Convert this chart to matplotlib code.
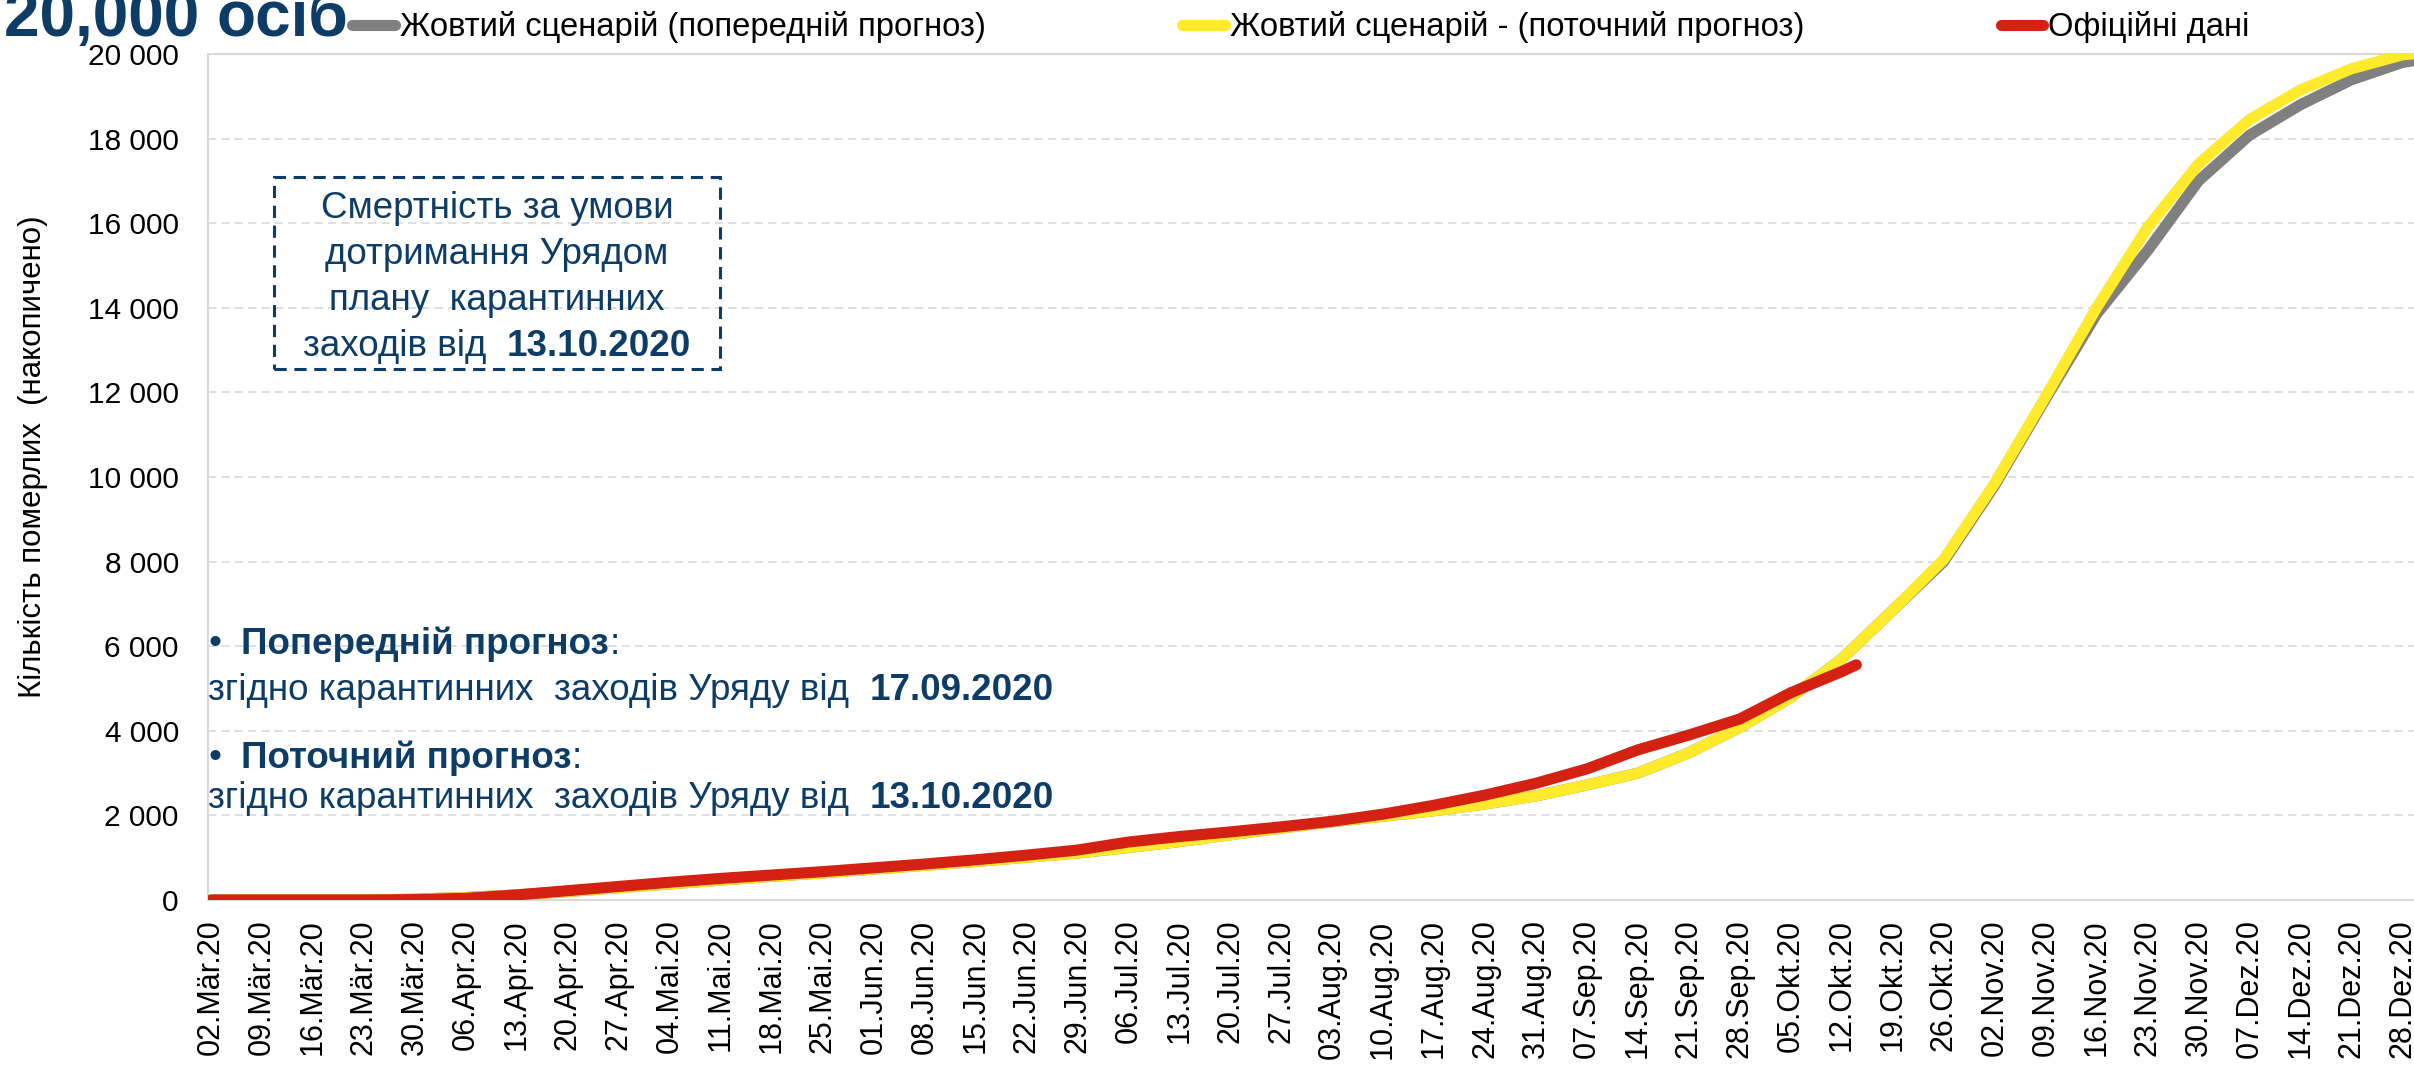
import numpy as np
import pandas as pd
import matplotlib
matplotlib.use("Agg")
import matplotlib.pyplot as plt
from matplotlib.patches import Rectangle

plt.rcParams['font.family'] = ['Liberation Sans', 'DejaVu Sans']

W, H = 2414, 1065
BLUE = '#0d3c66'

# weekly dates, 02.03.2020 .. 28.12.2020, plus the end of the forecast horizon
week_dates = pd.date_range('2020-03-02', '2020-12-28', freq='7D')
forecast_dates = week_dates.append(pd.DatetimeIndex(['2020-12-31']))
official_dates = week_dates[:33].append(pd.DatetimeIndex(['2020-10-14']))

# cumulative deaths
prev_forecast = [0, 0, 0, 0, 20, 60, 120, 200, 290, 380, 470, 560, 640, 730, 820, 910,
                 1010, 1110, 1240, 1380, 1540, 1700, 1850, 1980, 2110, 2270, 2460, 2720,
                 3000, 3480, 4080, 4790, 5700, 6850, 8000, 9800, 11850, 13850, 15350,
                 17000, 18080, 18800, 19390, 19800, 19880]
curr_forecast = [0, 0, 0, 0, 20, 60, 120, 200, 290, 380, 470, 560, 640, 730, 820, 910,
                 1010, 1110, 1240, 1380, 1540, 1700, 1850, 1980, 2110, 2270, 2460, 2720,
                 3000, 3480, 4080, 4790, 5700, 6850, 8050, 9850, 11900, 14000, 15900,
                 17400, 18450, 19150, 19650, 19980, 20030]
official = [0, 0, 0, 0, 10, 40, 120, 220, 320, 420, 510, 590, 670, 760, 850, 950,
            1060, 1180, 1370, 1500, 1610, 1730, 1860, 2030, 2240, 2480, 2760, 3100,
            3550, 3900, 4280, 4900, 5400, 5560]

labels = ['Жовтий сценарій (попередній прогноз)',
          'Жовтий сценарій - (поточний прогноз)',
          'Офіційні дані']
de_months = {3: 'Mär', 4: 'Apr', 5: 'Mai', 6: 'Jun', 7: 'Jul', 8: 'Aug',
             9: 'Sep', 10: 'Okt', 11: 'Nov', 12: 'Dez'}

start = week_dates[0]
def days(d):
    return np.asarray((d - start).days, dtype=float)

fig = plt.figure(figsize=(W / 100, H / 100), dpi=100)
ax = fig.add_axes([208 / W, 1 - 900 / H, 1 - 208 / W, 846 / H])

ax.plot(days(forecast_dates), prev_forecast, color='#808080', lw=8,
        solid_capstyle='round', label=labels[0], zorder=3)
ax.plot(days(forecast_dates), curr_forecast, color='#ffea2b', lw=8,
        solid_capstyle='round', label=labels[1], zorder=4)
ax.plot(days(official_dates), official, color='#d42112', lw=8,
        solid_capstyle='round', label=labels[2], zorder=5)

ax.set_xlim(-0.4, 302.6)
ax.set_ylim(0, 20000)
ax.set_yticks(np.arange(0, 20001, 2000))
ax.set_yticklabels([f'{v:,}'.replace(',', ' ') for v in range(0, 20001, 2000)])
ax.set_xticks(days(week_dates))
ax.set_xticklabels([f'{d.day:02d}.{de_months[d.month]}.20' for d in week_dates],
                   rotation=90)
ax.tick_params(axis='x', length=0, pad=14, labelsize=22)
ax.tick_params(axis='y', length=0, pad=21, labelsize=21.5)

ax.grid(axis='y', color='#d9d9d9', ls=(0, (5, 3)), lw=1.2)
for side in ['left', 'bottom', 'top']:
    ax.spines[side].set_color('#d9d9d9')
    ax.spines[side].set_linewidth(1.5)
ax.spines['right'].set_visible(False)
ax.set_axisbelow(True)

ax.set_ylabel('Кількість померлих  (накопичено)', fontsize=22.5)
ax.yaxis.set_label_coords(-0.0725, 0.524)

leg = fig.legend(loc='center left', bbox_to_anchor=(352 / W, 1 - 27 / H), ncol=3,
                 frameon=False, fontsize=23.6, handlelength=1.3, handletextpad=0.15,
                 columnspacing=6.0, borderpad=0, borderaxespad=0)
for line in leg.get_lines():
    line.set_linewidth(8)
    line.set_solid_capstyle('round')

fig.text(4 / W, 1 - 36 / H, '20,000 осіб', fontsize=46, fontweight='bold',
         color=BLUE, va='baseline', ha='left')

renderer = fig.canvas.get_renderer()

def text_width(s, weight, size):
    t1 = fig.text(0, 0, '|' + s + '|', fontsize=size, fontweight=weight)
    t0 = fig.text(0, 0, '||', fontsize=size, fontweight=weight)
    w = t1.get_window_extent(renderer).width - t0.get_window_extent(renderer).width
    t1.remove()
    t0.remove()
    return w

def rich_line(x, y, parts, size, ha='left'):
    # parts: list of (text, weight); x, y in pixels from top-left
    widths = [text_width(s, wt, size) for s, wt in parts]
    if ha == 'center':
        x -= sum(widths) / 2
    for (s, wt), w in zip(parts, widths):
        lead = len(s) - len(s.lstrip())
        off = text_width(s[:lead], wt, size) if lead else 0
        fig.text((x + off) / W, 1 - y / H, s.strip(), fontsize=size, fontweight=wt,
                 color=BLUE, va='center', ha='left')
        x += w

# dashed box with the scenario note
fig.add_artist(Rectangle((274 / W, 1 - 369 / H), 446 / W, 192 / H,
                         transform=fig.transFigure, fill=False, ec=BLUE,
                         ls=(0, (4, 2.5)), lw=2.2))
box_lines = [[('Смертність за умови', 'normal')],
             [('дотримання Урядом', 'normal')],
             [('плану  карантинних', 'normal')],
             [('заходів від  ', 'normal'), ('13.10.2020', 'bold')]]
for yy, parts in zip([208, 254, 301, 347], box_lines):
    rich_line(497, yy, parts, 26.5, ha='center')

notes = [[('•  ', 'normal'), ('Попередній прогноз', 'bold'), (':', 'normal')],
         [('згідно карантинних  заходів Уряду від  ', 'normal'), ('17.09.2020', 'bold')],
         [('•  ', 'normal'), ('Поточний прогноз', 'bold'), (':', 'normal')],
         [('згідно карантинних  заходів Уряду від  ', 'normal'), ('13.10.2020', 'bold')]]
for yy, parts in zip([644, 691, 758, 798], notes):
    rich_line(208, yy, parts, 26.5)

fig.savefig('out.png', dpi=100)
